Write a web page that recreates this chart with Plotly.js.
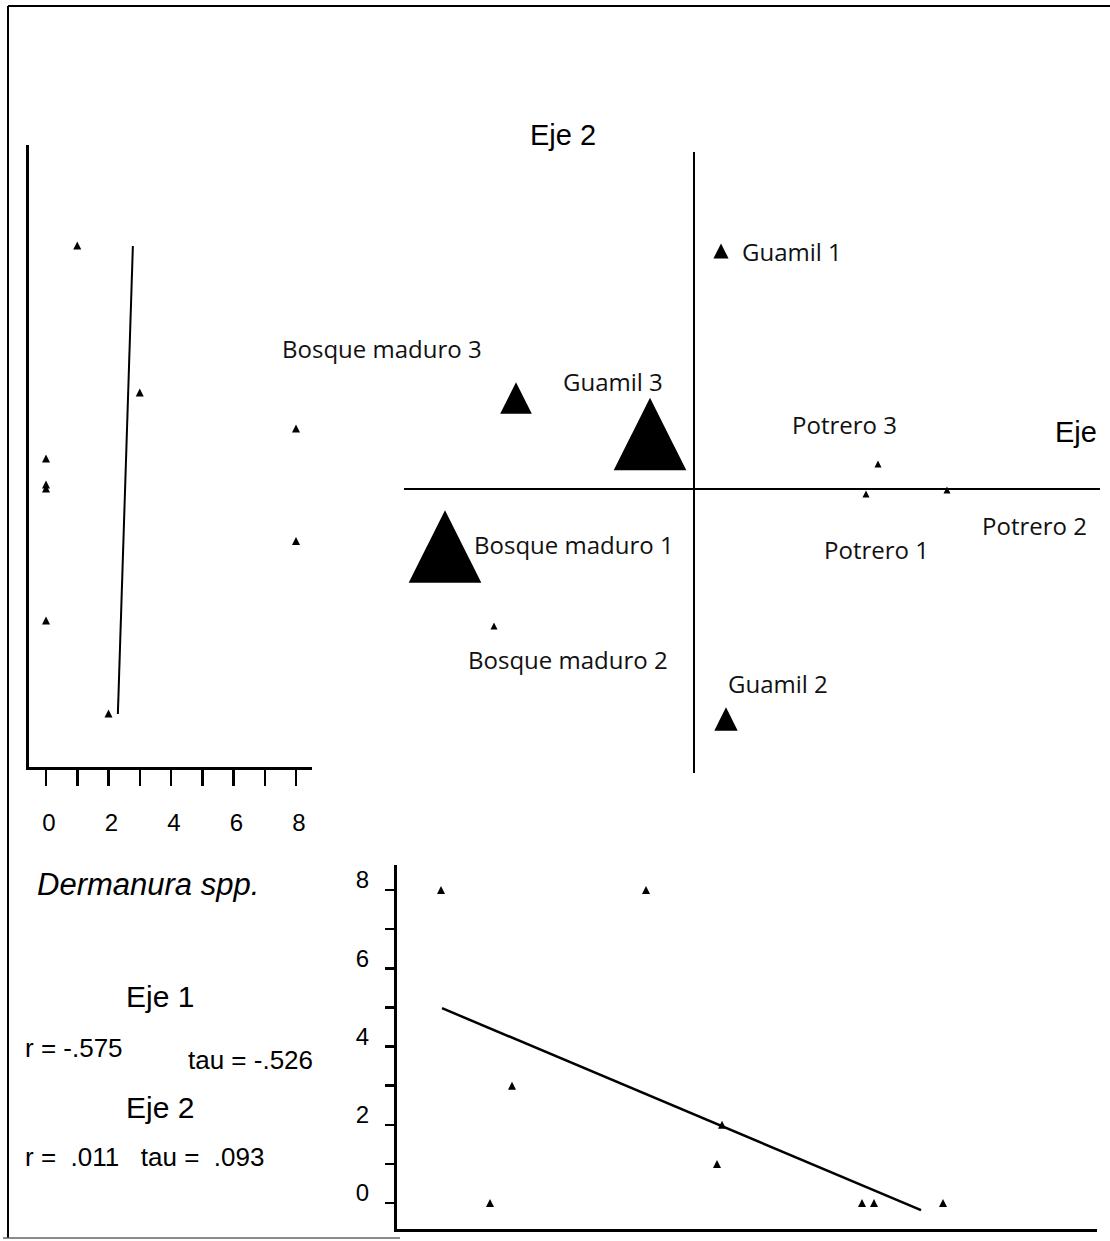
<!DOCTYPE html>
<html>
<head>
<meta charset="utf-8">
<script src="https://cdn.plot.ly/plotly-3.0.1.min.js"></script>
<style>html,body{margin:0;padding:0;background:#fff;}#chart{width:1110px;height:1241px;}</style>
</head>
<body>
<div id="chart"></div>
<script>
// ---- data ----
const sites = ['Bosque maduro 1','Bosque maduro 2','Bosque maduro 3','Guamil 1','Guamil 2','Guamil 3','Potrero 1','Potrero 2','Potrero 3'];
const eje1 = [-2.49, -2.00, -1.78, 0.27, 0.32, -0.44, 1.72, 2.53, 1.84];
const eje2 = [-0.575, -1.37, 0.91, 2.38, -2.30, 0.55, -0.05, -0.01, 0.25];
const dermanura = [8, 0, 3, 1, 2, 8, 0, 0, 0];
// regression lines (as drawn)
const fitEje2Y = [-2.305, 2.375];
const fitEje2X = [2.30, 2.78];
const fitEje1X = [-2.48, 2.31];
const fitEje1Y = [4.98, -0.18];
// tick labels
const countTicks = [0,1,2,3,4,5,6,7,8];
const countTickText = ['0','','2','','4','','6','','8'];
const statsEje1 = ['r = -.575', 'tau = -.526'];
const statsEje2 = 'r =\u00a0 .011\u00a0\u00a0 tau =\u00a0 .093';

// ---- helpers ----
const W = 1110, H = 1241;
const px = x => x / W;
const py = y => 1 - y / H;

const sizeCenter = dermanura.map(c => 7 + 8.2 * c);
const smallSize = 8;

const triMarker = (sizes) => {
  const s = Array.isArray(sizes) ? sizes : sites.map(() => sizes);
  return {
    symbol: 'arrow-down', angle: 180,
    size: s, standoff: s.map(v => v / 2),
    color: '#000', opacity: 1, line: {width: 0}
  };
};

const traces = [
  // central ordination
  {type: 'scatter', mode: 'markers', x: eje1, y: eje2, text: sites,
   xaxis: 'x', yaxis: 'y', marker: triMarker(sizeCenter), hoverinfo: 'text'},
  // left: Dermanura vs Eje 2
  {type: 'scatter', mode: 'markers', x: dermanura, y: eje2, text: sites,
   xaxis: 'x2', yaxis: 'y2', marker: triMarker(smallSize)},
  {type: 'scatter', mode: 'lines', x: fitEje2X, y: fitEje2Y,
   xaxis: 'x2', yaxis: 'y2', line: {color: '#000', width: 2}},
  // bottom: Dermanura vs Eje 1
  {type: 'scatter', mode: 'markers', x: eje1, y: dermanura, text: sites,
   xaxis: 'x3', yaxis: 'y3', marker: triMarker(smallSize)},
  {type: 'scatter', mode: 'lines', x: fitEje1X, y: fitEje1Y,
   xaxis: 'x3', yaxis: 'y3', line: {color: '#000', width: 2.5}}
];

const labelFont = {family: 'Open Sans, Roboto, sans-serif', size: 24, color: '#111'};
const arial = (s) => ({family: 'Liberation Sans, Arial, sans-serif', size: s, color: '#000'});

const siteLabelPos = [
  [472, 544], [466, 659], [280, 348], [740, 251], [726, 683], [561, 381], [822, 549], [980, 525], [790, 424]
];

const annotations = sites.map((s, i) => ({
  text: s, xref: 'paper', yref: 'paper', x: px(siteLabelPos[i][0]), y: py(siteLabelPos[i][1]),
  xanchor: 'left', yanchor: 'middle', showarrow: false, font: labelFont
}));

annotations.push(
  {text: 'Eje 2', xref: 'paper', yref: 'paper', x: px(563), y: py(135), xanchor: 'center', yanchor: 'middle', showarrow: false, font: arial(29)},
  {text: 'Eje', xref: 'paper', yref: 'paper', x: px(1053), y: py(432), xanchor: 'left', yanchor: 'middle', showarrow: false, font: arial(29)},
  {text: '<i>Dermanura spp.</i>', xref: 'paper', yref: 'paper', x: px(35), y: py(884), xanchor: 'left', yanchor: 'middle', showarrow: false, font: arial(31)},
  {text: 'Eje 1', xref: 'paper', yref: 'paper', x: px(160), y: py(996), xanchor: 'center', yanchor: 'middle', showarrow: false, font: arial(30)},
  {text: statsEje1[0], xref: 'paper', yref: 'paper', x: px(23), y: py(1048), xanchor: 'left', yanchor: 'middle', showarrow: false, font: arial(26)},
  {text: statsEje1[1], xref: 'paper', yref: 'paper', x: px(186), y: py(1060), xanchor: 'left', yanchor: 'middle', showarrow: false, font: arial(26)},
  {text: 'Eje 2', xref: 'paper', yref: 'paper', x: px(160), y: py(1107), xanchor: 'center', yanchor: 'middle', showarrow: false, font: arial(30)},
  {text: statsEje2, xref: 'paper', yref: 'paper', x: px(23), y: py(1157), xanchor: 'left', yanchor: 'middle', showarrow: false, font: arial(26)}
);

const frameLine = {color: '#000', width: 2};
const shapes = [
  {type: 'line', xref: 'paper', yref: 'paper', x0: px(8), x1: px(1110), y0: py(6), y1: py(6), line: frameLine},
  {type: 'line', xref: 'paper', yref: 'paper', x0: px(8), x1: px(8), y0: py(6), y1: py(1238), line: frameLine},
  {type: 'line', xref: 'paper', yref: 'paper', x0: px(3), x1: px(400), y0: py(1238), y1: py(1238), line: {color: '#666', width: 1.5}}
];

const hidden = {showgrid: false, showticklabels: false, ticks: '', showline: false};

const layout = {
  width: W, height: H,
  margin: {l: 0, r: 0, t: 0, b: 0},
  paper_bgcolor: '#fff', plot_bgcolor: 'rgba(0,0,0,0)',
  showlegend: false,
  // central ordination axes (zerolines form the cross)
  xaxis: Object.assign({}, hidden, {domain: [px(404), px(1100)], range: [-2.90, 4.06],
    zeroline: true, zerolinecolor: '#000', zerolinewidth: 2.5, anchor: 'y'}),
  yaxis: Object.assign({}, hidden, {domain: [py(773), py(152)], range: [-2.84, 3.37],
    zeroline: true, zerolinecolor: '#000', zerolinewidth: 2.5, anchor: 'x'}),
  // left panel
  xaxis2: {domain: [px(28.5), px(312)], range: [-0.56, 8.512], anchor: 'y2',
    showgrid: false, zeroline: false, showline: true, linecolor: '#000', linewidth: 3,
    ticks: 'outside', ticklen: 16, tickwidth: 2.5, tickcolor: '#000',
    tickmode: 'array', tickvals: countTicks, ticktext: countTickText,
    ticklabelstandoff: 16, ticklabelshift: 3, tickfont: arial(24)},
  yaxis2: {domain: [py(767), py(145)], range: [-2.835, 3.385], anchor: 'x2',
    showgrid: false, zeroline: false, showline: true, linecolor: '#000', linewidth: 3,
    ticks: '', showticklabels: false},
  // bottom panel
  xaxis3: {domain: [px(397), px(1097)], range: [-2.93, 4.07], anchor: 'y3',
    showgrid: false, zeroline: false, showline: true, linecolor: '#000', linewidth: 3,
    ticks: '', showticklabels: false},
  yaxis3: {domain: [py(1229), py(865)], range: [-0.6645, 8.639], anchor: 'x3',
    showgrid: false, zeroline: false, showline: true, linecolor: '#000', linewidth: 3,
    ticks: 'outside', ticklen: 9, tickwidth: 2.5, tickcolor: '#000',
    tickmode: 'array', tickvals: countTicks, ticktext: countTickText,
    ticklabelstandoff: 11, ticklabelshift: -10,
    tickfont: {family: 'Liberation Sans Narrow, Liberation Sans, Arial, sans-serif', size: 24, color: '#000'}},
  annotations: annotations,
  shapes: shapes
};

Plotly.newPlot('chart', traces, layout, {displayModeBar: false, staticPlot: true});
</script>
</body>
</html>
